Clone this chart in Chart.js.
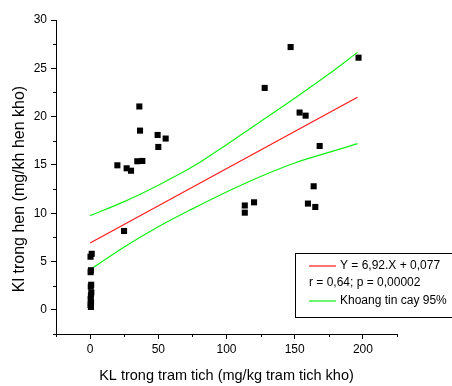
<!DOCTYPE html>
<html>
<head>
<meta charset="utf-8">
<script src="https://cdn.jsdelivr.net/npm/chart.js@4"></script>
<style>
    html, body { margin: 0; padding: 0; background: #fff; }
    #wrap { width: 452px; height: 386px; }
</style>
</head>
<body>
<div id="wrap"><canvas id="klChart" width="452" height="386"></canvas></div>
<script>
// measured samples: sediment (x) vs mussel (y)
const sedX = [147, 196.8, 128, 36.1, 153.6, 158, 36.6, 49.5, 55.4, 168.3, 50,
    20, 26.8, 30, 34.6, 38.3, 163.9, 120.2, 113.4, 113.4, 159.7, 165.1, 24.9,
    0.3, 1.2, 0.4, 0.6, 0.8, 0.5, 0.9, 0.6, 0.4, 0.7, 0.3, 0.6];
const musY = [27.2, 26.1, 22.97, 21.05, 20.42, 20.1, 18.55, 18.1, 17.73, 16.96, 16.86,
    14.96, 14.65, 14.4, 15.38, 15.41, 12.79, 11.13, 10.8, 10.06, 11.0, 10.65, 8.16,
    5.5, 5.8, 3.9, 4.1, 2.6, 2.4, 1.8, 1.5, 1.1, 0.8, 0.5, 0.3];

// regression line and 95% band
const fitX = [0, 196];
const fitY = [6.92, 22.0];
const bandX = [0, 25, 50, 75, 100, 125, 150, 175, 196];
const bandUp = [9.75, 11.2, 12.9, 14.8, 17.1, 19.5, 21.9, 24.4, 26.65];
const bandLow = [4.15, 6.5, 8.6, 10.45, 12.2, 13.8, 15.2, 16.3, 17.2];

const xTicks = [0, 50, 100, 150, 200];
const yTicks = [0, 5, 10, 15, 20, 25, 30];
const xMinor = [-25, 25, 75, 125, 175, 225];
const yMinor = [-2.5, 2.5, 7.5, 12.5, 17.5, 22.5, 27.5];

const FONT = "'Liberation Sans', Arial, sans-serif";

function toPts(xs, ys) {
    return xs.map((x, i) => ({ x: x, y: ys[i] }));
}

const extras = {
    id: 'extras',
    afterDraw(chart) {
        const ctx = chart.ctx;
        const xs = chart.scales.x, ys = chart.scales.y;
        const area = chart.chartArea;
        ctx.save();
        // minor ticks
        ctx.strokeStyle = '#000';
        ctx.lineWidth = 1;
        ctx.beginPath();
        xMinor.forEach(v => {
            const px = Math.round(xs.getPixelForValue(v)) + 0.5;
            ctx.moveTo(px, area.bottom);
            ctx.lineTo(px, area.bottom + 3);
        });
        yMinor.forEach(v => {
            const py = Math.round(ys.getPixelForValue(v)) + 0.5;
            ctx.moveTo(area.left, py);
            ctx.lineTo(area.left - 3, py);
        });
        ctx.stroke();

        // y axis title (sits a bit below axis centre in the original)
        ctx.fillStyle = '#000';
        ctx.font = '16px ' + FONT;
        ctx.textAlign = 'center';
        ctx.textBaseline = 'middle';
        ctx.translate(20, 189);
        ctx.rotate(-Math.PI / 2);
        ctx.fillText('Kl trong hen (mg/kh hen kho)', 0, 0);
        ctx.restore();

        // legend box
        ctx.save();
        ctx.strokeStyle = '#000';
        ctx.lineWidth = 1;
        ctx.strokeRect(295.5, 253.5, 170, 64);
        ctx.font = '12px ' + FONT;
        ctx.fillStyle = '#000';
        ctx.textBaseline = 'middle';
        ctx.textAlign = 'left';
        const rows = [
            { color: chart.data.datasets[1].borderColor, text: 'Y = 6,92.X + 0,077', y: 266 },
            { color: null, text: 'r = 0,64; p = 0,00002', y: 283 },
            { color: chart.data.datasets[2].borderColor, text: 'Khoang tin cay 95%', y: 301 }
        ];
        rows.forEach(r => {
            if (r.color) {
                ctx.strokeStyle = r.color;
                ctx.lineWidth = 1.2;
                ctx.beginPath();
                ctx.moveTo(309, r.y);
                ctx.lineTo(336, r.y);
                ctx.stroke();
                ctx.fillText(r.text, 340, r.y);
            } else {
                ctx.fillText(r.text, 309, r.y);
            }
        });
        ctx.restore();
    }
};

const ctx = document.getElementById('klChart').getContext('2d');
new Chart(ctx, {
    type: 'scatter',
    data: {
        datasets: [
            {
                label: 'Mau',
                data: toPts(sedX, musY),
                pointStyle: 'rect',
                pointRadius: 4.3,
                backgroundColor: '#000',
                borderWidth: 0,
                showLine: false
            },
            {
                label: 'Hoi quy',
                data: toPts(fitX, fitY),
                borderColor: '#ff1a1a',
                borderWidth: 1.2,
                pointRadius: 0,
                showLine: true
            },
            {
                label: 'Tren',
                data: toPts(bandX, bandUp),
                borderColor: '#10f010',
                borderWidth: 1.2,
                pointRadius: 0,
                showLine: true,
                cubicInterpolationMode: 'monotone'
            },
            {
                label: 'Duoi',
                data: toPts(bandX, bandLow),
                borderColor: '#10f010',
                borderWidth: 1.2,
                pointRadius: 0,
                showLine: true,
                cubicInterpolationMode: 'monotone'
            }
        ]
    },
    options: {
        responsive: false,
        animation: false,
        devicePixelRatio: 1,
        layout: { padding: { top: 20, right: 55, left: 0, bottom: 0 } },
        plugins: {
            legend: { display: false },
            tooltip: { enabled: false }
        },
        scales: {
            x: {
                type: 'linear',
                min: -25,
                max: 225,
                afterFit: s => { s.height = 52; },
                afterBuildTicks: s => { s.ticks = xTicks.map(v => ({ value: v })); },
                grid: { drawOnChartArea: false, tickLength: 5, tickColor: '#000' },
                border: { color: '#000', width: 1 },
                ticks: { color: '#000', padding: 3, maxRotation: 0, font: { family: FONT, size: 12 } },
                title: {
                    display: true,
                    text: 'KL trong tram tich (mg/kg tram tich kho)',
                    color: '#000',
                    font: { family: FONT, size: 14.5 },
                    padding: { top: 0, bottom: 1 }
                }
            },
            y: {
                type: 'linear',
                min: -2.5,
                max: 30,
                afterFit: s => { s.width = 56; },
                afterBuildTicks: s => { s.ticks = yTicks.map(v => ({ value: v })); },
                grid: { drawOnChartArea: false, tickLength: 5, tickColor: '#000' },
                border: { color: '#000', width: 1 },
                ticks: { color: '#000', padding: 4, font: { family: FONT, size: 12 } }
            }
        }
    },
    plugins: [extras]
});
</script>
</body>
</html>
